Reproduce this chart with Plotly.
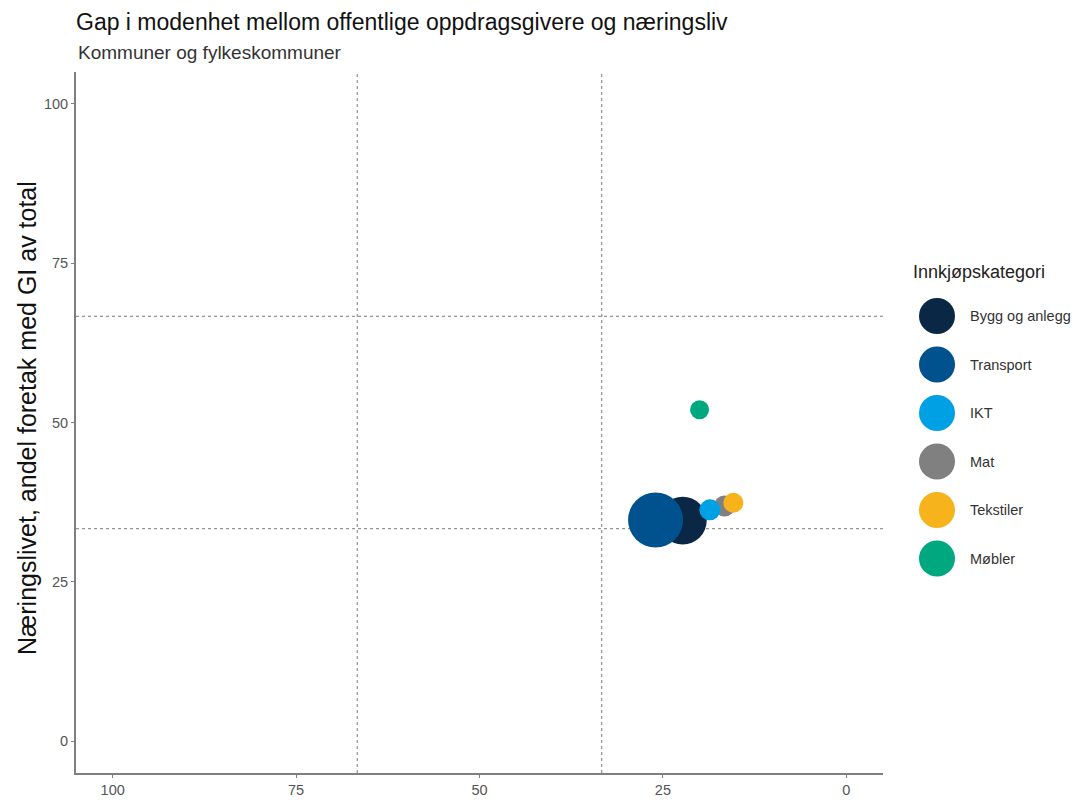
import plotly.graph_objects as go

# ---- data ----
kategorier = ["Bygg og anlegg", "Transport", "IKT", "Mat", "Tekstiler", "Møbler"]
offentlig_gi = [22.3, 26.0, 18.6, 16.6, 15.4, 20.0]      # x (reversed axis)
naeringsliv_gi = [34.6, 34.7, 36.3, 36.9, 37.4, 52.0]    # y
omfang = [23.0, 30.3, 4.4, 4.4, 4.0, 3.6]                 # bubble size (area)
farger = ["#0B2746", "#00528E", "#00A0E4", "#808080", "#F6B31B", "#00A880"]
terskler = [100 / 3, 200 / 3]
akse_ticks = [0, 25, 50, 75, 100]

draw_order = ["Bygg og anlegg", "Transport", "Mat", "Tekstiler", "IKT", "Møbler"]

FONT = "Liberation Sans, Arial, sans-serif"
OFF = 8  # page body margin
W, H = 1082 - OFF, 801 - OFF
L, R, T, B = 76 - OFF, 883 - OFF, 72 - OFF, 773 - OFF

fig = go.Figure()
for k in draw_order:
    i = kategorier.index(k)
    fig.add_trace(go.Scatter(
        x=[offentlig_gi[i]], y=[naeringsliv_gi[i]], mode="markers", name=k,
        marker=dict(size=[omfang[i]], sizemode="area", sizeref=0.02,
                    color=farger[i], line=dict(width=0), opacity=1),
        showlegend=False,
    ))

shapes = []
for t in terskler:
    shapes.append(dict(type="line", xref="x", yref="paper", x0=t, x1=t, y0=0, y1=1,
                       line=dict(color="#7A7A7A", width=1, dash="dot"), layer="below"))
    shapes.append(dict(type="line", xref="paper", yref="y", x0=0, x1=1, y0=t, y1=t,
                       line=dict(color="#7A7A7A", width=1, dash="dot"), layer="below"))

def px_x(p):
    return (p - OFF - L) / (R - L)

def px_y(p):
    return (B - (p - OFF)) / (B - T)

annotations = []
# legend (manual, large keys)
annotations.append(dict(text="Innkjøpskategori", xref="paper", yref="paper",
                        x=px_x(911), y=px_y(272), xanchor="left", yanchor="middle",
                        showarrow=False, font=dict(family=FONT, size=18, color="#222222")))
leg_y = [316, 364.5, 413, 461.5, 510, 558.5]
for k, c, yy in zip(kategorier, farger, leg_y):
    shapes.append(dict(type="circle", xref="paper", yref="paper",
                       xsizemode="pixel", ysizemode="pixel",
                       xanchor=px_x(937), yanchor=px_y(yy),
                       x0=-18, x1=18, y0=-18, y1=18,
                       fillcolor=c, line=dict(width=0)))
    annotations.append(dict(text=k, xref="paper", yref="paper", x=px_x(968), y=px_y(yy),
                            xanchor="left", yanchor="middle", showarrow=False,
                            font=dict(family=FONT, size=14.5, color="#333333")))

# subtitle
annotations.append(dict(text="Kommuner og fylkeskommuner", xref="paper", yref="paper",
                        x=0, y=px_y(52), xanchor="left", yanchor="middle", showarrow=False,
                        font=dict(family=FONT, size=19, color="#333333")))
# y axis title
annotations.append(dict(text="Næringslivet, andel foretak med GI av total", xref="paper",
                        yref="paper", x=px_x(27), y=px_y(418), xanchor="center",
                        yanchor="middle", textangle=-90, showarrow=False,
                        font=dict(family=FONT, size=25, color="#111111")))

axis_common = dict(showgrid=False, zeroline=False, showline=True, linecolor="#7F7F7F",
                   linewidth=2, ticks="outside", ticklen=3, tickcolor="#7F7F7F",
                   tickwidth=1, tickvals=akse_ticks, automargin=False,
                   tickfont=dict(family=FONT, size=14.5, color="#555555"))

fig.update_layout(
    width=W, height=H,
    margin=dict(l=L, r=W - R, t=T, b=H - B, autoexpand=False),
    plot_bgcolor="white", paper_bgcolor="white",
    title=dict(text="Gap i modenhet mellom offentlige oppdragsgivere og næringsliv",
               x=L / W, xanchor="left", y=1 - (22 - OFF) / H, yanchor="middle",
               font=dict(family=FONT, size=23, color="#111111")),
    xaxis=dict(range=[105, -5], **axis_common),
    yaxis=dict(range=[-5, 105], **axis_common),
    shapes=shapes, annotations=annotations,
)

fig.write_html("out.html")
